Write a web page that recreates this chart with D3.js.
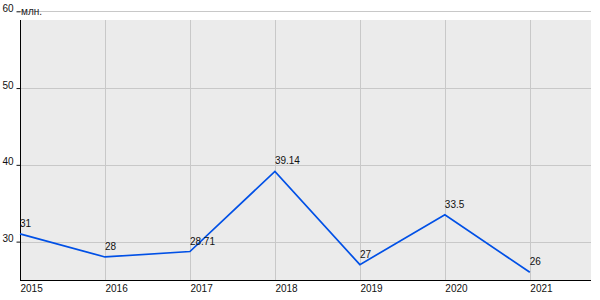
<!DOCTYPE html>
<html>
<head>
<meta charset="utf-8">
<script src="https://cdn.jsdelivr.net/npm/d3@7"></script>
<style>
  body { margin: 0; background: #fff; }
  svg { display: block; font-family: "Liberation Sans", Arial, sans-serif; }
</style>
</head>
<body>
<svg id="chart" width="600" height="300"></svg>
<script>
const years = [2015, 2016, 2017, 2018, 2019, 2020, 2021];
const values = [31, 28, 28.71, 39.14, 27, 33.5, 26];
const valueLabels = ["31", "28", "28.71", "39.14", "27", "33.5", "26"];
const yTicks = [30, 40, 50, 60];
const unitLabel = "млн.";

document.addEventListener('DOMContentLoaded', function () {
    drawLineChart();
});

function drawLineChart() {
    const svg = d3.select('#chart');
    const left = 20, right = 591, top = 20, bottom = 280;

    const xScale = d3.scaleLinear()
        .domain([2015, 2021.72])
        .range([left, right]);
    const yScale = d3.scaleLinear()
        .domain([25, 60])
        .range([bottom, 11.3]);

    // plot background
    svg.append('rect')
        .attr('x', left).attr('y', top)
        .attr('width', right - left).attr('height', bottom - top)
        .attr('fill', '#ebebeb');

    // horizontal grid lines
    svg.append('g').selectAll('line')
        .data(yTicks)
        .enter().append('line')
        .attr('x1', left).attr('x2', right)
        .attr('y1', d => Math.round(yScale(d)) + 0.5)
        .attr('y2', d => Math.round(yScale(d)) + 0.5)
        .attr('stroke', '#c8c8c8');

    // vertical grid lines
    svg.append('g').selectAll('line')
        .data(years.slice(1))
        .enter().append('line')
        .attr('x1', d => Math.round(xScale(d)) + 0.5)
        .attr('x2', d => Math.round(xScale(d)) + 0.5)
        .attr('y1', top).attr('y2', bottom)
        .attr('stroke', '#c8c8c8');

    // y axis
    const yAxis = d3.axisLeft(yScale)
        .tickValues(yTicks)
        .tickSize(4)
        .tickPadding(3);
    const gy = svg.append('g')
        .attr('transform', `translate(${left + 0.5},0)`)
        .call(yAxis);
    gy.select('.domain').remove();
    gy.selectAll('text')
        .style('font-size', '10px')
        .attr('dy', '0')
        .attr('y', 0)
        .attr('fill', '#111');
    gy.selectAll('.tick line').attr('stroke', '#111');
    svg.append('line')
        .attr('x1', left + 0.5).attr('x2', left + 0.5)
        .attr('y1', top).attr('y2', bottom)
        .attr('stroke', '#000');

    // x axis
    const xAxis = d3.axisBottom(xScale)
        .tickValues(years)
        .tickFormat(d3.format('d'))
        .tickSize(0)
        .tickPadding(4);
    const gx = svg.append('g')
        .attr('transform', `translate(0,${bottom + 0.5})`)
        .call(xAxis);
    gx.select('.domain').remove();
    gx.selectAll('text')
        .style('font-size', '10px')
        .attr('fill', '#111')
        .attr('text-anchor', 'start');
    svg.append('line')
        .attr('x1', left).attr('x2', right)
        .attr('y1', bottom + 0.5).attr('y2', bottom + 0.5)
        .attr('stroke', '#000');

    // unit label
    svg.append('text')
        .attr('x', left + 1)
        .attr('y', 15)
        .style('font-size', '10px')
        .attr('fill', '#222')
        .text(unitLabel);

    // line
    const line = d3.line()
        .x((d, i) => xScale(years[i]))
        .y(d => yScale(d));
    svg.append('path')
        .datum(values)
        .attr('d', line)
        .attr('fill', 'none')
        .attr('stroke', '#0050e6')
        .attr('stroke-width', 1.7);

    // value labels
    svg.append('g').selectAll('text')
        .data(values)
        .enter().append('text')
        .attr('x', (d, i) => xScale(years[i]))
        .attr('y', d => yScale(d) - 7)
        .style('font-size', '10px')
        .attr('fill', '#111')
        .text((d, i) => valueLabels[i]);
}
</script>
</body>
</html>
